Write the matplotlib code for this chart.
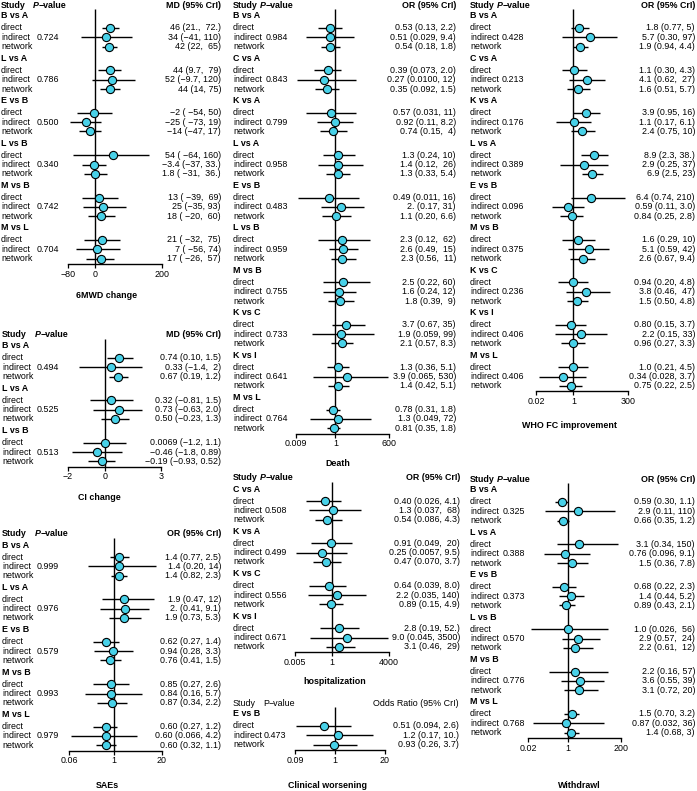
import matplotlib.pyplot as plt
import matplotlib.transforms as mtransforms

plt.rcParams['font.family'] = ['Liberation Sans', 'DejaVu Sans']

W, H = 697, 791
FS = 6.4
ROWS = ['direct', 'indirect', 'network']
CYAN = '#48D1E8'

# ---- 6MWD change (MD)
mwd_groups = ['B vs A', 'L vs A', 'E vs B', 'L vs B', 'M vs B', 'M vs L']
mwd_p = ['0.724', '0.786', '0.500', '0.340', '0.742', '0.704']
mwd_est = [[46, 34, 42], [44, 52, 44], [-2, -25, -14], [54, -3.4, 1.8], [13, 25, 18], [21, 7, 17]]
mwd_lo = [[21, -41, 22], [9.7, -9.7, 14], [-54, -73, -47], [-64, -37, -31], [-39, -35, -20], [-32, -56, -26]]
mwd_hi = [[72, 110, 65], [79, 120, 75], [50, 19, 17], [160, 33, 36], [69, 93, 60], [75, 74, 57]]
mwd_txt = [['46 (21.,  72.)', '34 (\u221241, 110)', '42 (22,  65)'],
           ['44 (9.7,  79)', '52 (\u22129.7, 120)', '44 (14, 75)'],
           ['\u22122 ( \u221254, 50)', '\u221225 ( \u221273, 19)', '\u221214 (\u221247, 17)'],
           ['54 ( \u221264, 160)', '\u22123.4 (\u221237, 33.)', '1.8 ( \u221231,  36.)'],
           ['13 ( \u221239,  69)', '25 (\u221235, 93)', '18 ( \u221220,  60)'],
           ['21 ( \u221232,  75)', '7 ( \u221256, 74)', '17 ( \u221226,  57)']]

# ---- CI change (MD)
ci_groups = ['B vs A', 'L vs A', 'L vs B']
ci_p = ['0.494', '0.525', '0.513']
ci_est = [[0.74, 0.33, 0.67], [0.32, 0.73, 0.50], [0.0069, -0.46, -0.19]]
ci_lo = [[0.10, -1.4, 0.19], [-0.81, -0.63, -0.23], [-1.2, -1.8, -0.93]]
ci_hi = [[1.5, 2, 1.2], [1.5, 2.0, 1.3], [1.1, 0.89, 0.52]]
ci_txt = [['0.74 (0.10, 1.5)', '0.33 (\u22121.4,  2)', '0.67 (0.19, 1.2)'],
          ['0.32 (\u22120.81, 1.5)', '0.73 (\u22120.63, 2.0)', '0.50 (\u22120.23, 1.3)'],
          ['0.0069 (\u22121.2, 1.1)', '\u22120.46 (\u22121.8, 0.89)', '\u22120.19 (\u22120.93, 0.52)']]

# ---- SAEs (OR)
sae_groups = ['B vs A', 'L vs A', 'E vs B', 'M vs B', 'M vs L']
sae_p = ['0.999', '0.976', '0.579', '0.993', '0.979']
sae_est = [[1.4, 1.4, 1.4], [1.9, 2.0, 1.9], [0.62, 0.94, 0.76], [0.85, 0.84, 0.87], [0.60, 0.60, 0.60]]
sae_lo = [[0.77, 0.20, 0.82], [0.47, 0.41, 0.73], [0.27, 0.28, 0.41], [0.27, 0.16, 0.34], [0.27, 0.066, 0.32]]
sae_hi = [[2.5, 14, 2.3], [12, 9.1, 5.3], [1.4, 3.3, 1.5], [2.6, 5.7, 2.2], [1.2, 4.2, 1.1]]
sae_txt = [['1.4 (0.77, 2.5)', '1.4 (0.20, 14)', '1.4 (0.82, 2.3)'],
           ['1.9 (0.47, 12)', '2. (0.41, 9.1)', '1.9 (0.73, 5.3)'],
           ['0.62 (0.27, 1.4)', '0.94 (0.28, 3.3)', '0.76 (0.41, 1.5)'],
           ['0.85 (0.27, 2.6)', '0.84 (0.16, 5.7)', '0.87 (0.34, 2.2)'],
           ['0.60 (0.27, 1.2)', '0.60 (0.066, 4.2)', '0.60 (0.32, 1.1)']]

# ---- Death (OR)
death_groups = ['B vs A', 'C vs A', 'K vs A', 'L vs A', 'E vs B', 'L vs B', 'M vs B', 'K vs C', 'K vs I', 'M vs L']
death_p = ['0.984', '0.843', '0.799', '0.958', '0.483', '0.959', '0.755', '0.733', '0.641', '0.764']
death_est = [[0.53, 0.51, 0.54], [0.39, 0.27, 0.35], [0.57, 0.92, 0.74], [1.3, 1.4, 1.3], [0.49, 2.0, 1.1],
             [2.3, 2.6, 2.3], [2.5, 1.6, 1.8], [3.7, 1.9, 2.1], [1.3, 3.9, 1.4], [0.78, 1.3, 0.81]]
death_lo = [[0.13, 0.029, 0.18], [0.073, 0.0100, 0.092], [0.031, 0.11, 0.15], [0.24, 0.12, 0.33], [0.011, 0.17, 0.20],
            [0.12, 0.49, 0.56], [0.22, 0.24, 0.39], [0.67, 0.059, 0.57], [0.36, 0.065, 0.42], [0.31, 0.049, 0.35]]
death_hi = [[2.2, 9.4, 1.8], [2.0, 12, 1.5], [11, 8.2, 4], [10, 26, 5.4], [16, 31, 6.6],
            [62, 15, 11], [60, 12, 9], [35, 99, 8.3], [5.1, 530, 5.1], [1.8, 72, 1.8]]
death_txt = [['0.53 (0.13, 2.2)', '0.51 (0.029, 9.4)', '0.54 (0.18, 1.8)'],
             ['0.39 (0.073, 2.0)', '0.27 (0.0100, 12)', '0.35 (0.092, 1.5)'],
             ['0.57 (0.031, 11)', '0.92 (0.11, 8.2)', '0.74 (0.15,  4)'],
             ['1.3 (0.24, 10)', '1.4 (0.12,  26)', '1.3 (0.33, 5.4)'],
             ['0.49 (0.011, 16)', '2. (0.17, 31)', '1.1 (0.20, 6.6)'],
             ['2.3 (0.12,  62)', '2.6 (0.49,  15)', '2.3 (0.56,  11)'],
             ['2.5 (0.22, 60)', '1.6 (0.24, 12)', '1.8 (0.39,  9)'],
             ['3.7 (0.67, 35)', '1.9 (0.059, 99)', '2.1 (0.57, 8.3)'],
             ['1.3 (0.36, 5.1)', '3.9 (0.065, 530)', '1.4 (0.42, 5.1)'],
             ['0.78 (0.31, 1.8)', '1.3 (0.049, 72)', '0.81 (0.35, 1.8)']]

# ---- hospitalization (OR)
hosp_groups = ['C vs A', 'K vs A', 'K vs C', 'K vs I']
hosp_p = ['0.508', '0.499', '0.556', '0.671']
hosp_est = [[0.40, 1.3, 0.54], [0.91, 0.25, 0.47], [0.64, 2.2, 0.89], [2.8, 9.0, 3.1]]
hosp_lo = [[0.026, 0.037, 0.086], [0.049, 0.0057, 0.070], [0.039, 0.035, 0.15], [0.19, 0.045, 0.46]]
hosp_hi = [[4.1, 68, 4.3], [20, 9.5, 3.7], [8.0, 140, 4.9], [52, 3500, 29]]
hosp_txt = [['0.40 (0.026, 4.1)', '1.3 (0.037,  68)', '0.54 (0.086, 4.3)'],
            ['0.91 (0.049,  20)', '0.25 (0.0057, 9.5)', '0.47 (0.070, 3.7)'],
            ['0.64 (0.039, 8.0)', '2.2 (0.035, 140)', '0.89 (0.15, 4.9)'],
            ['2.8 (0.19, 52.)', '9.0 (0.045, 3500)', '3.1 (0.46,  29)']]

# ---- Clinical worsening (OR)
cw_groups = ['E vs B']
cw_p = ['0.473']
cw_est = [[0.51, 1.2, 0.93]]
cw_lo = [[0.094, 0.17, 0.26]]
cw_hi = [[2.6, 10, 3.7]]
cw_txt = [['0.51 (0.094, 2.6)', '1.2 (0.17, 10.)', '0.93 (0.26, 3.7)']]

# ---- WHO FC improvement (OR)
who_groups = ['B vs A', 'C vs A', 'K vs A', 'L vs A', 'E vs B', 'M vs B', 'K vs C', 'K vs I', 'M vs L']
who_p = ['0.428', '0.213', '0.176', '0.389', '0.096', '0.375', '0.236', '0.406', '0.406']
who_est = [[1.8, 5.7, 1.9], [1.1, 4.1, 1.6], [3.9, 1.1, 2.4], [8.9, 2.9, 6.9], [6.4, 0.59, 0.84],
           [1.6, 5.1, 2.6], [0.94, 3.8, 1.5], [0.80, 2.2, 0.96], [1.0, 0.34, 0.75]]
who_lo = [[0.77, 0.30, 0.94], [0.30, 0.62, 0.51], [0.95, 0.17, 0.75], [2.3, 0.25, 2.5], [0.74, 0.11, 0.25],
          [0.29, 0.59, 0.67], [0.20, 0.46, 0.50], [0.15, 0.15, 0.27], [0.21, 0.028, 0.22]]
who_hi = [[5, 97, 4.4], [4.3, 27, 5.7], [16, 6.1, 10], [38, 37, 23], [210, 3.0, 2.8],
          [10, 42, 9.4], [4.8, 47, 4.8], [3.7, 33, 3.3], [4.5, 3.7, 2.5]]
who_txt = [['1.8 (0.77, 5)', '5.7 (0.30, 97)', '1.9 (0.94, 4.4)'],
           ['1.1 (0.30, 4.3)', '4.1 (0.62,  27)', '1.6 (0.51, 5.7)'],
           ['3.9 (0.95, 16)', '1.1 (0.17, 6.1)', '2.4 (0.75, 10)'],
           ['8.9 (2.3, 38.)', '2.9 (0.25, 37)', '6.9 (2.5, 23)'],
           ['6.4 (0.74, 210)', '0.59 (0.11, 3.0)', '0.84 (0.25, 2.8)'],
           ['1.6 (0.29, 10)', '5.1 (0.59, 42)', '2.6 (0.67, 9.4)'],
           ['0.94 (0.20, 4.8)', '3.8 (0.46,  47)', '1.5 (0.50, 4.8)'],
           ['0.80 (0.15, 3.7)', '2.2 (0.15, 33)', '0.96 (0.27, 3.3)'],
           ['1.0 (0.21, 4.5)', '0.34 (0.028, 3.7)', '0.75 (0.22, 2.5)']]

# ---- Withdrawl (OR)
wd_groups = ['B vs A', 'L vs A', 'E vs B', 'L vs B', 'M vs B', 'M vs L']
wd_p = ['0.325', '0.388', '0.373', '0.570', '0.776', '0.768']
wd_est = [[0.59, 2.9, 0.66], [3.1, 0.76, 1.5], [0.68, 1.4, 0.89], [1.0, 2.9, 2.2], [2.2, 3.6, 3.1], [1.5, 0.87, 1.4]]
wd_lo = [[0.30, 0.11, 0.35], [0.34, 0.096, 0.36], [0.22, 0.44, 0.43], [0.026, 0.57, 0.61], [0.16, 0.55, 0.72], [0.70, 0.032, 0.68]]
wd_hi = [[1.1, 110, 1.2], [150, 9.1, 7.8], [2.3, 5.2, 2.1], [56, 24, 12], [57, 39, 20], [3.2, 36, 3]]
wd_txt = [['0.59 (0.30, 1.1)', '2.9 (0.11, 110)', '0.66 (0.35, 1.2)'],
          ['3.1 (0.34, 150)', '0.76 (0.096, 9.1)', '1.5 (0.36, 7.8)'],
          ['0.68 (0.22, 2.3)', '1.4 (0.44, 5.2)', '0.89 (0.43, 2.1)'],
          ['1.0 (0.026,  56)', '2.9 (0.57,  24)', '2.2 (0.61,  12)'],
          ['2.2 (0.16, 57)', '3.6 (0.55, 39)', '3.1 (0.72, 20)'],
          ['1.5 (0.70, 3.2)', '0.87 (0.032, 36)', '1.4 (0.68, 3)']]

fig = plt.figure(figsize=(W / 100, H / 100), dpi=100)


def draw_panel(groups, pvals, est, lo, hi, txt, title, ticks, ticklabels, log,
               x_lab, x_phead, x_p, x_right, x_ax0, x_ax1, y_head, title_xy,
               eff_head, plain_head=False):
    n = len(groups)
    g_y = [11 + 42.4 * g for g in range(n)]
    axis_off = g_y[-1] + 30.6 + 5.5
    ax = fig.add_axes([x_ax0 / W, 1 - (y_head + axis_off) / H,
                       (x_ax1 - x_ax0) / W, axis_off / H])
    if log:
        ax.set_xscale('log')
    ax.set_xlim(ticks[0], ticks[-1])
    ax.set_ylim(axis_off, 0)
    for s in ['top', 'right', 'left']:
        ax.spines[s].set_visible(False)
    ax.spines['bottom'].set_linewidth(1.0)
    ax.set_yticks([])
    ax.set_xticks(ticks)
    ax.set_xticklabels(ticklabels)
    ax.minorticks_off()
    ax.tick_params(axis='x', length=3, width=0.9, pad=1, labelsize=FS)
    ax.patch.set_visible(False)

    ref = 1 if log else 0
    ax.vlines(ref, 4, axis_off, color='black', lw=1.0)

    tr = mtransforms.blended_transform_factory(fig.transFigure, ax.transData)
    hw = 'normal' if plain_head else 'bold'
    ax.text(x_lab / W, 0, 'Study', transform=tr, va='center', fontsize=FS, fontweight=hw)
    pt = ax.text(x_phead / W, 0, 'P', transform=tr, va='center', fontsize=FS, fontweight=hw,
                 fontstyle='normal' if plain_head else 'italic')
    ax.annotate('\u2212value', xy=(1, 0.5), xycoords=pt, va='center', ha='left',
                fontsize=FS, fontweight=hw)
    ax.text(x_right / W, 0, eff_head, transform=tr, va='center', ha='right',
            fontsize=FS, fontweight=hw)

    for g in range(n):
        ax.text(x_lab / W, g_y[g], groups[g], transform=tr, va='center', fontsize=FS,
                fontweight='bold')
        ys = [g_y[g] + 12, g_y[g] + 21.3, g_y[g] + 30.6]
        for k in range(3):
            ax.text(x_lab / W, ys[k], ROWS[k], transform=tr, va='center', fontsize=FS)
            ax.text(x_right / W, ys[k], txt[g][k], transform=tr, va='center', ha='right',
                    fontsize=FS)
        ax.text(x_p / W, ys[1], pvals[g], transform=tr, va='center', fontsize=FS)
        ax.hlines(ys, lo[g], hi[g], color='black', lw=1.0, zorder=2)
        ax.plot(est[g], ys, 'o', ms=5.9, mfc=CYAN, mec='black', mew=0.8, zorder=3)

    ax.text(title_xy[0] / W, title_xy[1] - y_head, title, transform=tr, va='center',
            ha='center', fontsize=FS, fontweight='bold')


draw_panel(mwd_groups, mwd_p, mwd_est, mwd_lo, mwd_hi, mwd_txt, '6MWD change',
           [-80, 0, 200], ['\u221280', '0', '200'], False,
           1, 33, 37, 221, 68, 162, 5, (107, 296), 'MD (95% CrI)')
draw_panel(ci_groups, ci_p, ci_est, ci_lo, ci_hi, ci_txt, 'CI change',
           [-2, 0, 3], ['\u22122', '0', '3'], False,
           2, 35, 37, 221, 68, 161, 335, (99, 498), 'MD (95% CrI)')
draw_panel(sae_groups, sae_p, sae_est, sae_lo, sae_hi, sae_txt, 'SAEs',
           [0.06, 1, 20], ['0.06', '1', '20'], True,
           2, 35, 37, 221, 69, 162, 534, (107, 785), 'OR (95% CrI)')
draw_panel(death_groups, death_p, death_est, death_lo, death_hi, death_txt, 'Death',
           [0.009, 1, 600], ['0.009', '1', '600'], True,
           233, 260, 266, 456, 296, 389, 5, (338, 464), 'OR (95% CrI)')
draw_panel(hosp_groups, hosp_p, hosp_est, hosp_lo, hosp_hi, hosp_txt, 'hospitalization',
           [0.005, 1, 4000], ['0.005', '1', '4000'], True,
           233, 260, 265, 460, 295, 389, 478, (335, 682), 'OR (95% CrI)')
draw_panel(cw_groups, cw_p, cw_est, cw_lo, cw_hi, cw_txt, 'Clinical worsening',
           [0.09, 1, 20], ['0.09', '1', '20'], True,
           233, 263, 264, 459, 295, 385, 703, (327, 786), 'Odds Ratio (95% CrI)', plain_head=True)
draw_panel(who_groups, who_p, who_est, who_lo, who_hi, who_txt, 'WHO FC improvement',
           [0.02, 1, 300], ['0.02', '1', '300'], True,
           470, 497, 502, 695, 536, 628, 5, (570, 425), 'OR (95% CrI)')
draw_panel(wd_groups, wd_p, wd_est, wd_lo, wd_hi, wd_txt, 'Withdrawl',
           [0.02, 1, 200], ['0.02', '1', '200'], True,
           470, 497, 503, 695, 528, 621, 479, (579, 785), 'OR (95% CrI)')

fig.savefig('out.png', dpi=100)
